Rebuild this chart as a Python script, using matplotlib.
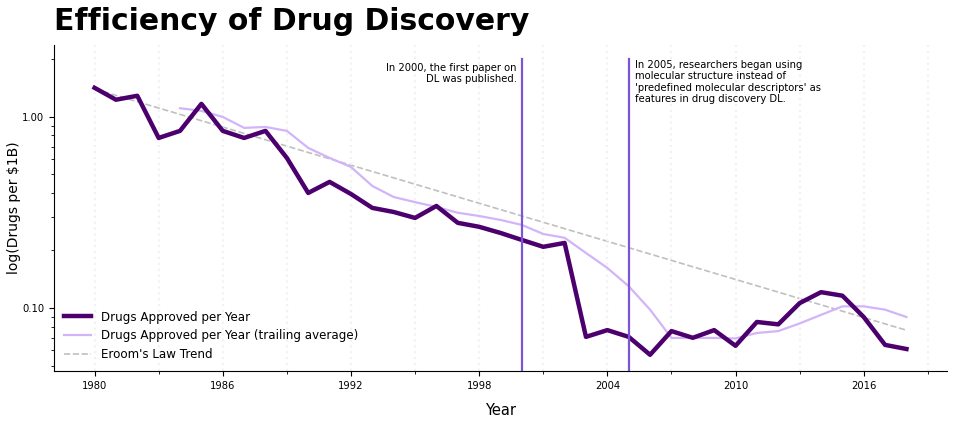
import numpy as np
import matplotlib.pyplot as plt
from matplotlib.ticker import MultipleLocator, FormatStrFormatter, LogLocator, NullFormatter

# Drugs approved per $1B of R&D spend
years = list(range(1980, 2019))
drugs_per_bn = [1.42, 1.23, 1.29, 0.776, 0.845, 1.17, 0.845, 0.776, 0.845, 0.61,
                0.40, 0.457, 0.395, 0.334, 0.318, 0.296, 0.342, 0.279, 0.266, 0.247,
                0.227, 0.209, 0.219, 0.0706, 0.0766, 0.0706, 0.0569, 0.0757, 0.0698, 0.0766,
                0.0634, 0.0845, 0.0821, 0.106, 0.121, 0.116, 0.0897, 0.0641, 0.0610]

avg_years = list(range(1984, 2019))
drugs_avg = [1.11, 1.075, 1.0, 0.876, 0.886, 0.845, 0.688, 0.61, 0.547, 0.435,
             0.381, 0.358, 0.338, 0.315, 0.303, 0.289, 0.272, 0.244, 0.233, 0.194,
             0.162, 0.130, 0.098, 0.0697, 0.0697, 0.0697, 0.0693, 0.074, 0.0757, 0.083,
             0.092, 0.102, 0.102, 0.098, 0.0897]

# Eroom's law trend (straight line on log axis, endpoints)
trend_years = [1980, 2018]
trend_vals = [1.40, 0.0765]

events = [2000, 2005]
note_2000 = "In 2000, the first paper on\nDL was published."
note_2005 = ("In 2005, researchers began using\nmolecular structure instead of\n"
             "'predefined molecular descriptors' as\nfeatures in drug discovery DL.")

fig = plt.figure(figsize=(9.57, 4.24), dpi=100)
ax = fig.add_axes([0.0564, 0.125, 0.9332, 0.769])

ax.plot(years, drugs_per_bn, color='#4b006e', lw=3.2, label='Drugs Approved per Year', zorder=3)
ax.plot(avg_years, drugs_avg, color='#d2b4f8', lw=1.6,
        label='Drugs Approved per Year (trailing average)', zorder=2)
ax.plot(trend_years, trend_vals, color='#c0c0c0', lw=1.2, ls='--',
        label="Eroom's Law Trend", zorder=1)

for yr in events:
    ax.axvline(yr, ymax=0.957, color='#7b55d6', lw=1.6, zorder=4)

tr = ax.get_xaxis_transform()
ax.text(1999.75, 0.945, note_2000, transform=tr, ha='right', va='top', fontsize=7.2)
ax.text(2005.3, 0.955, note_2005, transform=tr, ha='left', va='top', fontsize=7.2)

ax.set_yscale('log')
ax.set_ylim(0.0468, 2.38)
ax.set_xlim(1978.1, 2019.9)
ax.yaxis.set_major_locator(LogLocator(base=10))
ax.yaxis.set_major_formatter(FormatStrFormatter('%.2f'))
ax.yaxis.set_minor_formatter(NullFormatter())
ax.xaxis.set_major_locator(MultipleLocator(6))
ax.xaxis.set_minor_locator(MultipleLocator(3))
ax.tick_params(labelsize=7.2)
ax.grid(True, axis='x', which='both', color='#f2f2f2', lw=1.6, ls=':')

for s in ['top', 'right']:
    ax.spines[s].set_visible(False)

ax.set_ylabel('log(Drugs per $1B)', fontsize=10, labelpad=1)
ax.set_xlabel('Year', fontsize=10.5, labelpad=8.5)
ax.legend(loc='lower left', frameon=False, fontsize=8.6, handlelength=2.3,
          labelspacing=0.5, borderaxespad=0.4)

fig.text(0.0564, 0.983, 'Efficiency of Drug Discovery', fontsize=21.5, fontweight='bold',
         ha='left', va='top')

plt.savefig('out.png', dpi=100)
